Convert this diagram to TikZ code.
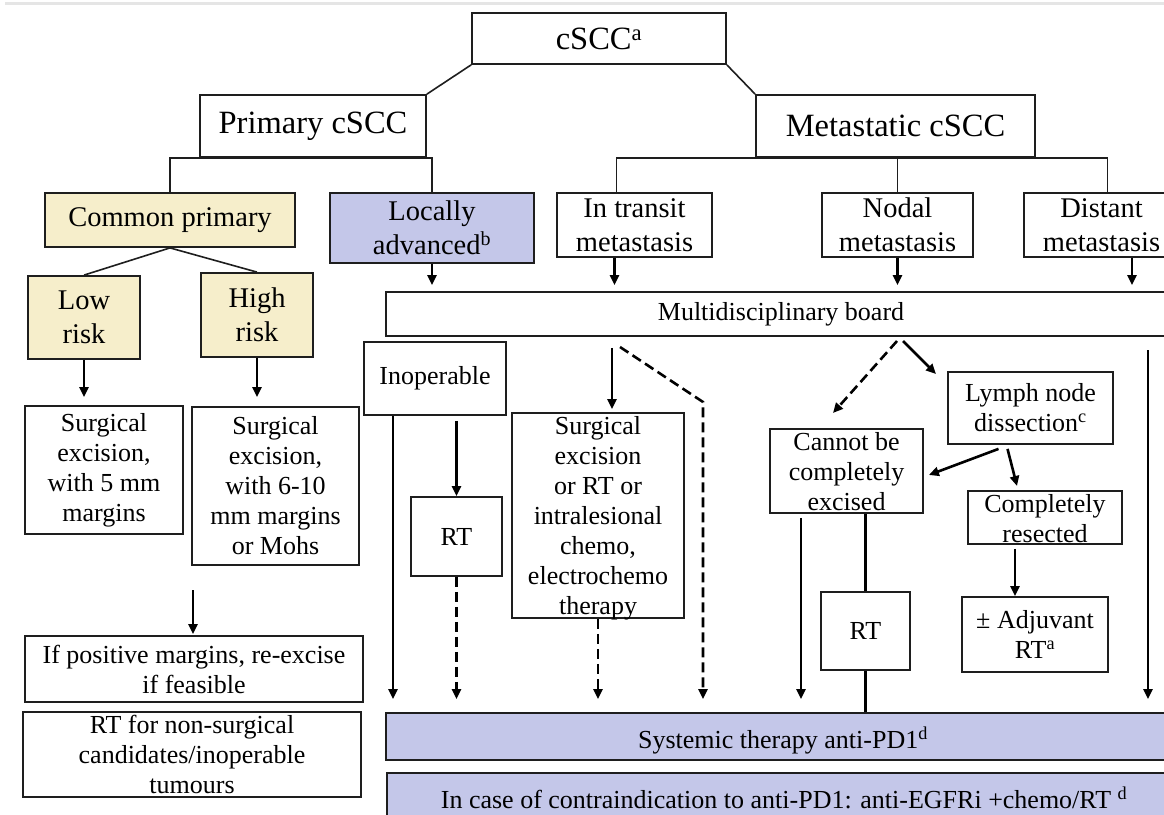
\documentclass[tikz,border=0pt]{standalone}
\usepackage{fontspec}
\setmainfont{Liberation Serif}
\usetikzlibrary{arrows.meta}
\newcommand{\fbig}{\fontsize{32.5}{38}\selectfont}
\newcommand{\fmid}{\fontsize{28.5}{34}\selectfont}
\newcommand{\fsm}{\fontsize{26}{30}\selectfont}
\definecolor{cream}{RGB}{246,238,203}
\definecolor{lav}{RGB}{196,199,233}
\definecolor{edge}{RGB}{30,30,30}
\begin{document}
\begin{tikzpicture}[x=1pt,y=-1pt,
 box/.style={draw=edge, line width=1.8pt, inner sep=0pt, align=center, fill=white, font=\fsm},
 cbox/.style={box, fill=cream, font=\fmid},
 lbox/.style={box, fill=lav},
 link/.style={draw=edge, line width=1.6pt},
 arr/.style={draw=black, line width=2.6pt, -{Triangle[length=10pt,width=9pt]}},
 darr/.style={arr, dash pattern=on 10pt off 5pt},
]
\path[use as bounding box] (0,0) rectangle (1164,814);
\clip (0,0) rectangle (1164,814);
\fill[white] (0,0) rectangle (1164,814);
\draw[gray!20, line width=3pt] (5,3) -- (1164,3);

% top levels
\node[box, font=\fbig, minimum width=254pt, minimum height=51pt] (cscc) at (599,38.5) {cSCC\textsuperscript{a}};
\node[box, font=\fbig, minimum width=226pt, minimum height=62pt] (primary) at (313,126) {Primary cSCC};
\node[box, font=\fbig, minimum width=279pt, minimum height=62pt] (meta) at (895.5,126) {Metastatic cSCC};

% second level
\node[cbox, minimum width=250pt, minimum height=54pt] (common) at (170,220) {Common primary};
\node[lbox, font=\fmid, minimum width=204pt, minimum height=70pt] (locally) at (432,228) {Locally\\advanced\textsuperscript{b}};
\node[box, font=\fmid, minimum width=155pt, minimum height=64pt] (transit) at (634.5,225) {In transit\\metastasis};
\node[box, font=\fmid, minimum width=151pt, minimum height=64pt] (nodal) at (897.5,225) {Nodal\\metastasis};
\node[box, font=\fmid, minimum width=155pt, minimum height=64pt] (distant) at (1101.5,225) {Distant\\metastasis};

\node[box, minimum width=790pt, minimum height=44pt] (board) at (781,314) {Multidisciplinary board};

% left branch
\node[cbox, minimum width=112pt, minimum height=83pt] (low) at (84,317.5) {Low\\risk};
\node[cbox, minimum width=112pt, minimum height=84pt] (high) at (257,315) {High\\risk};
\node[box, minimum width=158pt, minimum height=128pt] (surg5) at (104,470) {Surgical\\excision,\\with 5 mm\\margins};
\node[box, minimum width=167pt, minimum height=158pt] (surg610) at (275.5,486) {Surgical\\excision,\\with 6-10\\mm margins\\or Mohs};
\node[box, minimum width=338pt, minimum height=66pt] (ifpos) at (194,669) {If positive margins, re-excise\\if feasible};
\node[box, minimum width=338pt, minimum height=85pt] (rtnon) at (192,754.5) {RT for non-surgical\\candidates/inoperable\\tumours};

% middle
\node[box, minimum width=142pt, minimum height=73pt] (inop) at (435,378.5) {Inoperable};
\node[box, minimum width=91pt, minimum height=79pt] (rt1) at (456.5,536.5) {RT};
\node[box, minimum width=172pt, minimum height=205pt,
  label={[align=center, font=\fsm, yshift=-3pt]center:{Surgical\\excision\\or RT or\\intralesional\\chemo,\\electrochemo\\therapy}}] (surgtr) at (598,515.5) {};

% nodal branch
\node[box, minimum width=153pt, minimum height=84pt,
  label={[align=center, font=\fsm, yshift=-1pt]center:{Cannot be\\completely\\excised}}] (cannot) at (846.5,471) {};
\node[box, minimum width=165pt, minimum height=72pt] (lymph) at (1030.5,408) {Lymph node\\dissection\textsuperscript{c}};
\node[box, minimum width=154pt, minimum height=53pt,
  label={[align=center, font=\fsm, yshift=-1pt]center:{Completely\\resected}}] (compl) at (1045,517.5) {};
\node[box, minimum width=146pt, minimum height=75pt] (adj) at (1035,634.5) {± Adjuvant\\RT\textsuperscript{a}};
\node[box, minimum width=89pt, minimum height=78pt] (rt2) at (865.5,631) {RT};

% bottom
\node[lbox, minimum width=794pt, minimum height=47pt,
  label={[font=\fsm, yshift=-4pt]center:{Systemic therapy anti-PD1\textsuperscript{d}}}] (systemic) at (783,736.5) {};
\node[lbox, minimum width=794pt, minimum height=50pt] (incase) at (784,798) {In case of contraindication to anti-PD1: anti-EGFRi +chemo/RT \textsuperscript{d}};

% tree links
\draw[link] (cscc.south west) -- (primary.north east);
\draw[link] (cscc.south east) -- (meta.north west);
\draw[link] (common.north) |- (primary.south) -| (locally.north);
\coordinate (tTop) at ([xshift=-18pt]transit.north);
\coordinate (dTop) at ([xshift=6pt]distant.north);
\draw[link] (tTop) |- (meta.south) -| (dTop);
\draw[link] (nodal.north) -- (nodal.north |- meta.south);
\draw[link] (common.south) -- (low.north);
\draw[link] (common.south) -- (high.north);

% arrows into board
\coordinate (tBot) at ([xshift=-20pt]transit.south);
\coordinate (dBot) at ([xshift=30.5pt]distant.south);
\draw[arr, shorten >=6pt] (locally.south) -- (locally.south |- board.north);
\draw[arr, shorten >=6pt] (tBot) -- (tBot |- board.north);
\draw[arr, shorten >=6pt] (nodal.south) -- (nodal.south |- board.north);
\draw[arr, shorten >=6pt] (dBot) -- (dBot |- board.north);

% left arrows
\draw[arr, shorten >=8pt] (low.south) -- (low.south |- surg5.north);
\draw[arr, shorten >=9pt] (high.south) -- (high.south |- surg610.north);
\coordinate (ifin) at (193,590);
\draw[arr, shorten >=1pt] (ifin) -- (ifin |- ifpos.north);

% middle arrows
\coordinate (iL) at ([xshift=-42pt]inop.south);
\draw[arr, shorten >=13pt] (iL) -- (iL |- systemic.north);
\draw[arr, shorten <=5pt] (inop.south -| rt1.north) -- (rt1.north);
\draw[darr, shorten >=13pt] (rt1.south) -- (rt1.south |- systemic.north);
\coordinate (sT) at ([xshift=14pt]surgtr.north);
\draw[arr, shorten <=11pt, shorten >=3pt] (sT |- board.south) -- (sT);
\coordinate (dA) at (620,347);
\coordinate (dB) at (703,402);
\draw[darr, shorten >=13pt] (dA) -- (dB) -- (dB |- systemic.north);
\draw[darr, shorten >=13pt] (surgtr.south) -- (surgtr.south |- systemic.north);

% nodal arrows
\coordinate (nA) at (897,341);
\coordinate (nB) at (833,413);
\draw[darr] (nA) -- (nB);
\coordinate (nC) at (903,341);
\coordinate (nD) at (936,374);
\draw[arr] (nC) -- (nD);
\coordinate (lA) at ([xshift=-32pt,yshift=-4pt]lymph.south);
\coordinate (lB) at ([xshift=-23pt,yshift=-4pt]lymph.south);
\draw[arr] (lA) -- ([xshift=5pt,yshift=-4pt]cannot.east);
\coordinate (cT) at (1017,486);
\draw[arr] (lB) -- (cT);
\coordinate (cA) at ([xshift=-30pt,yshift=-4pt]compl.south);
\draw[arr] (cA) -- (cA |- adj.north);
\coordinate (cB) at ([xshift=-45.5pt,yshift=-4pt]cannot.south);
\draw[arr, shorten >=13pt] (cB) -- (cB |- systemic.north);
\draw[black, line width=2.2pt] (rt2.north |- cannot.south) -- (rt2.north);
\draw[black, line width=2.2pt] (rt2.south) -- (rt2.south |- systemic.north);
\coordinate (rA) at (1148,350);
\draw[arr, shorten >=13pt] (rA) -- (rA |- systemic.north);
\end{tikzpicture}
\end{document}
